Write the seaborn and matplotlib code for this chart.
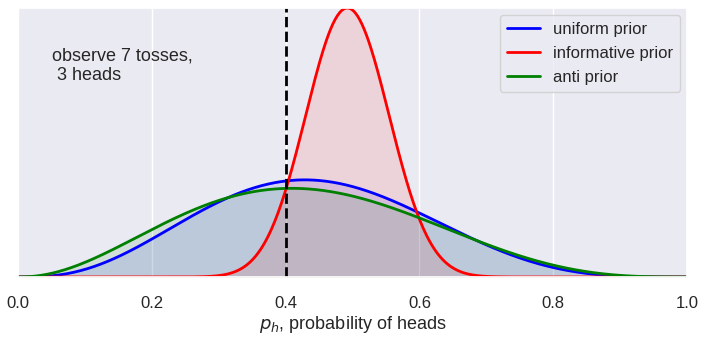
import math
import numpy as np
import matplotlib
matplotlib.use("Agg")
import matplotlib.pyplot as plt
import seaborn as sns

# Observed coin flips
n_tosses = 7
n_heads = 3

# Beta prior parameters for each prior choice
prior_names = ["uniform prior", "informative prior", "anti prior"]
prior_alpha = [1.0, 30.0, 0.25]
prior_beta = [1.0, 30.0, 0.25]
line_colors = ["blue", "red", "green"]

marker_p = 0.4


def beta_pdf(x, a, b):
    log_norm = math.lgamma(a + b) - math.lgamma(a) - math.lgamma(b)
    with np.errstate(divide="ignore", invalid="ignore"):
        y = np.exp(log_norm + (a - 1) * np.log(x) + (b - 1) * np.log1p(-x))
    return np.nan_to_num(y)


sns.set_theme(style="darkgrid")
plt.rcParams["font.family"] = ["Liberation Sans", "DejaVu Sans"]

fig = plt.figure(figsize=(7.06, 3.39), dpi=100)
ax = fig.add_axes([18 / 706, 1 - 277 / 339, 669 / 706, 269 / 339])

p = np.linspace(0, 1, 600)
peak = 0.0
for name, a, b, c in zip(prior_names, prior_alpha, prior_beta, line_colors):
    post = beta_pdf(p, a + n_heads, b + n_tosses - n_heads)
    peak = max(peak, post.max())
    sns.lineplot(x=p, y=post, color=c, lw=2, label=name, ax=ax)
    ax.fill_between(p, 0, post, color=c, alpha=0.1)

ax.axvline(marker_p, color="black", ls="--", lw=2)

ax.set_xlim(0, 1)
ax.set_ylim(0, peak)
ax.set_yticks([])
ax.set_xticks(np.arange(0, 1.01, 0.2))
ax.tick_params(axis="x", labelsize=12, pad=8)
ax.set_xlabel("$p_h$, probability of heads", fontsize=13, labelpad=2)
ax.set_ylabel("")

ax.text(0.051, 0.852, "observe 7 tosses,\n 3 heads", transform=ax.transAxes,
        fontsize=13, va="top", ha="left", color="#262626")

ax.legend(loc="upper right", fontsize=12, handlelength=2.0, borderaxespad=0.42,
          labelspacing=0.55)

fig.savefig("out.png", dpi=100)
